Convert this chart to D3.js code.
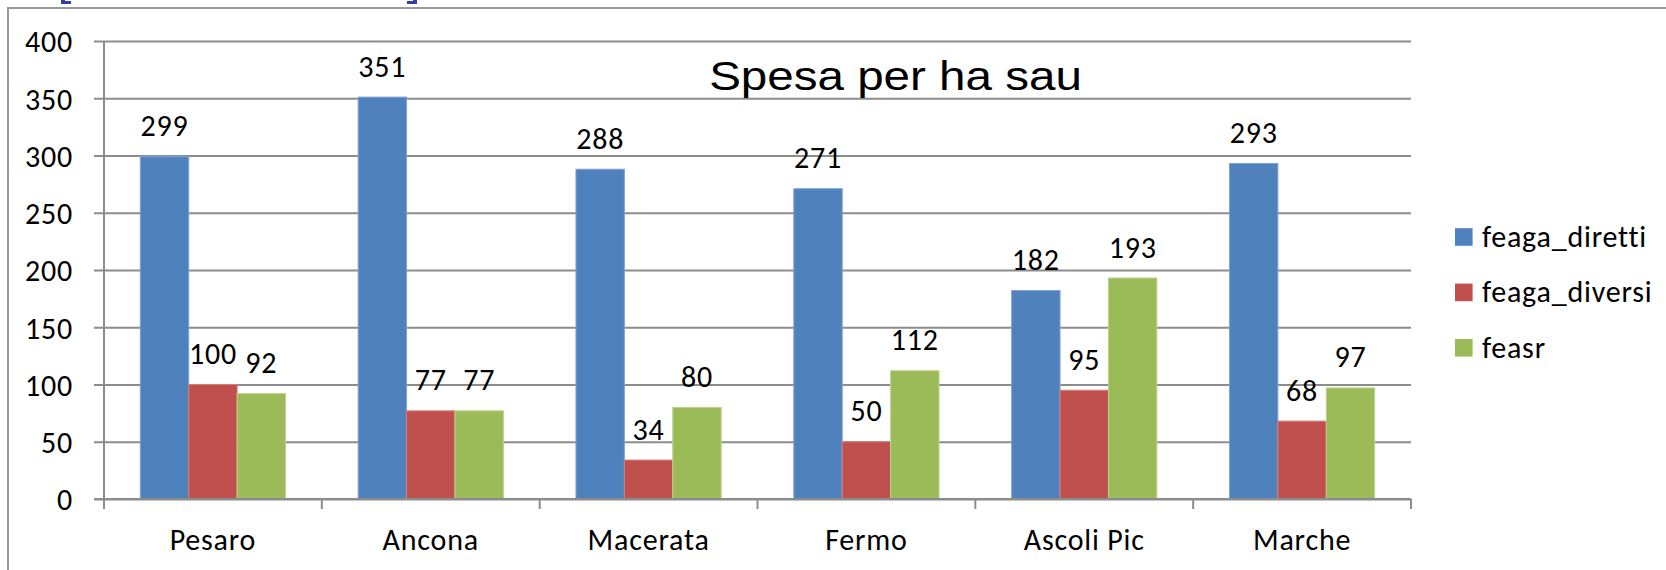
<!DOCTYPE html>
<html>
<head>
<meta charset="utf-8">
<script src="https://cdn.jsdelivr.net/npm/d3@7"></script>
<style>
  html, body { margin: 0; padding: 0; background: #fff; overflow: hidden; }
  svg { display: block; }
  .lbl { font-family: Carlito, Calibri, Lato, sans-serif; font-size: 30px; letter-spacing: 0.8px; fill: #000; }
</style>
</head>
<body>
<div id="chart"></div>
<script>
// data
const categories = ['Pesaro', 'Ancona', 'Macerata', 'Fermo', 'Ascoli Pic', 'Marche'];
const seriesNames = ['feaga_diretti', 'feaga_diversi', 'feasr'];
const feagaDiretti = [299, 351, 288, 271, 182, 293];
const feagaDiversi = [100, 77, 34, 50, 95, 68];
const feasr = [92, 77, 80, 112, 193, 97];
const yTicks = [0, 50, 100, 150, 200, 250, 300, 350, 400];
const colors = ['#4F81BD', '#C0504D', '#9BBB59'];
const edgeColors = ['#7fa3d1', '#d47f7c', '#bcd38e'];

const seriesValues = [feagaDiretti, feagaDiversi, feasr];
const rows = categories.map((c, i) => ({
    cat: c,
    vals: seriesNames.map((s, j) => ({ key: s, value: seriesValues[j][i], idx: j }))
}));

const W = 1666, H = 570;
const margin = { top: 41, left: 104 };
const innerW = 1307, innerH = 458;

const svg = d3.select('#chart').append('svg')
    .attr('width', W)
    .attr('height', H);

// outer chart frame (runs off the right and bottom edges)
svg.append('rect')
    .attr('x', 8).attr('y', 8)
    .attr('width', 1700).attr('height', 620)
    .attr('fill', 'none')
    .attr('stroke', '#9a9a9a')
    .attr('stroke-width', 2);

// small bits of the slide above the chart
svg.append('path')
    .attr('d', 'M61,0 V4 H71 V1 H65 V0 Z M417,0 V4 H407 V1 H413 V0 Z')
    .attr('fill', '#3a3aa6');

const g = svg.append('g')
    .attr('transform', `translate(${margin.left},${margin.top})`);

const x0 = d3.scaleBand()
    .domain(categories)
    .range([0, innerW])
    .padding(0);

const barW = x0.bandwidth() / 4.5;
const x1 = d3.scaleBand()
    .domain(seriesNames)
    .range([barW * 0.75, x0.bandwidth() - barW * 0.75])
    .padding(0);

const y = d3.scaleLinear()
    .domain([0, 400])
    .range([innerH, 0]);

// y axis with gridlines
const yAxis = d3.axisLeft(y)
    .tickValues(yTicks)
    .tickSize(0)
    .tickPadding(31);

const yg = g.append('g').call(yAxis);
yg.select('.domain').remove();
yg.selectAll('.tick line')
    .attr('x1', -10)
    .attr('x2', innerW)
    .attr('stroke', '#8c8c8c')
    .attr('stroke-width', 2);
yg.selectAll('.tick text')
    .attr('class', 'lbl')
    .attr('dy', '0.36em');

// x axis line + category boundary ticks
const xg = g.append('g')
    .attr('transform', `translate(0,${innerH})`)
    .call(d3.axisBottom(x0).tickSize(0).tickPadding(0));
xg.select('.domain').remove();
xg.selectAll('.tick text')
    .attr('class', 'lbl')
    .attr('y', 51)
    .attr('dy', 0);

const bounds = categories.map(c => x0(c)).concat([x0.range()[1]]);
xg.selectAll('.bound')
    .data(bounds)
    .join('line')
    .attr('class', 'bound')
    .attr('x1', d => d).attr('x2', d => d)
    .attr('y1', 0).attr('y2', 10)
    .attr('stroke', '#8c8c8c')
    .attr('stroke-width', 2);

// bars
const groups = g.selectAll('.grp')
    .data(rows)
    .join('g')
    .attr('class', 'grp')
    .attr('transform', d => `translate(${x0(d.cat)},0)`);

groups.selectAll('rect')
    .data(d => d.vals)
    .join('rect')
    .attr('x', d => x1(d.key))
    .attr('y', d => y(d.value))
    .attr('width', x1.bandwidth())
    .attr('height', d => innerH - y(d.value))
    .attr('fill', d => colors[d.idx])
    .attr('stroke', d => edgeColors[d.idx])
    .attr('stroke-width', 1);

groups.selectAll('text')
    .data(d => d.vals)
    .join('text')
    .attr('class', 'lbl')
    .attr('x', d => x1(d.key) + x1.bandwidth() / 2)
    .attr('y', d => y(d.value) - 20.5)
    .attr('text-anchor', 'middle')
    .text(d => d.value);

// axis lines on top
g.append('line')
    .attr('x1', 0).attr('x2', 0)
    .attr('y1', 0).attr('y2', innerH + 10)
    .attr('stroke', '#8c8c8c')
    .attr('stroke-width', 2);
g.append('line')
    .attr('x1', -10).attr('x2', innerW)
    .attr('y1', innerH).attr('y2', innerH)
    .attr('stroke', '#8c8c8c')
    .attr('stroke-width', 2);

// title
svg.append('text')
    .attr('transform', 'translate(895.5,90) scale(1.16,1)')
    .attr('text-anchor', 'middle')
    .style('font-family', '"Liberation Sans", Arial, sans-serif')
    .style('font-size', '41px')
    .text('Spesa per ha sau');

// legend
const legend = svg.append('g')
    .attr('transform', 'translate(1455,237)');
const li = legend.selectAll('g')
    .data(seriesNames)
    .join('g')
    .attr('transform', (d, i) => `translate(0,${i * 55.4})`);
li.append('rect')
    .attr('x', 0).attr('y', -8.8)
    .attr('width', 17.6).attr('height', 17.6)
    .attr('fill', (d, i) => colors[i]);
li.append('text')
    .attr('class', 'lbl')
    .attr('x', 27)
    .attr('dy', '0.33em')
    .text(d => d);
</script>
</body>
</html>
